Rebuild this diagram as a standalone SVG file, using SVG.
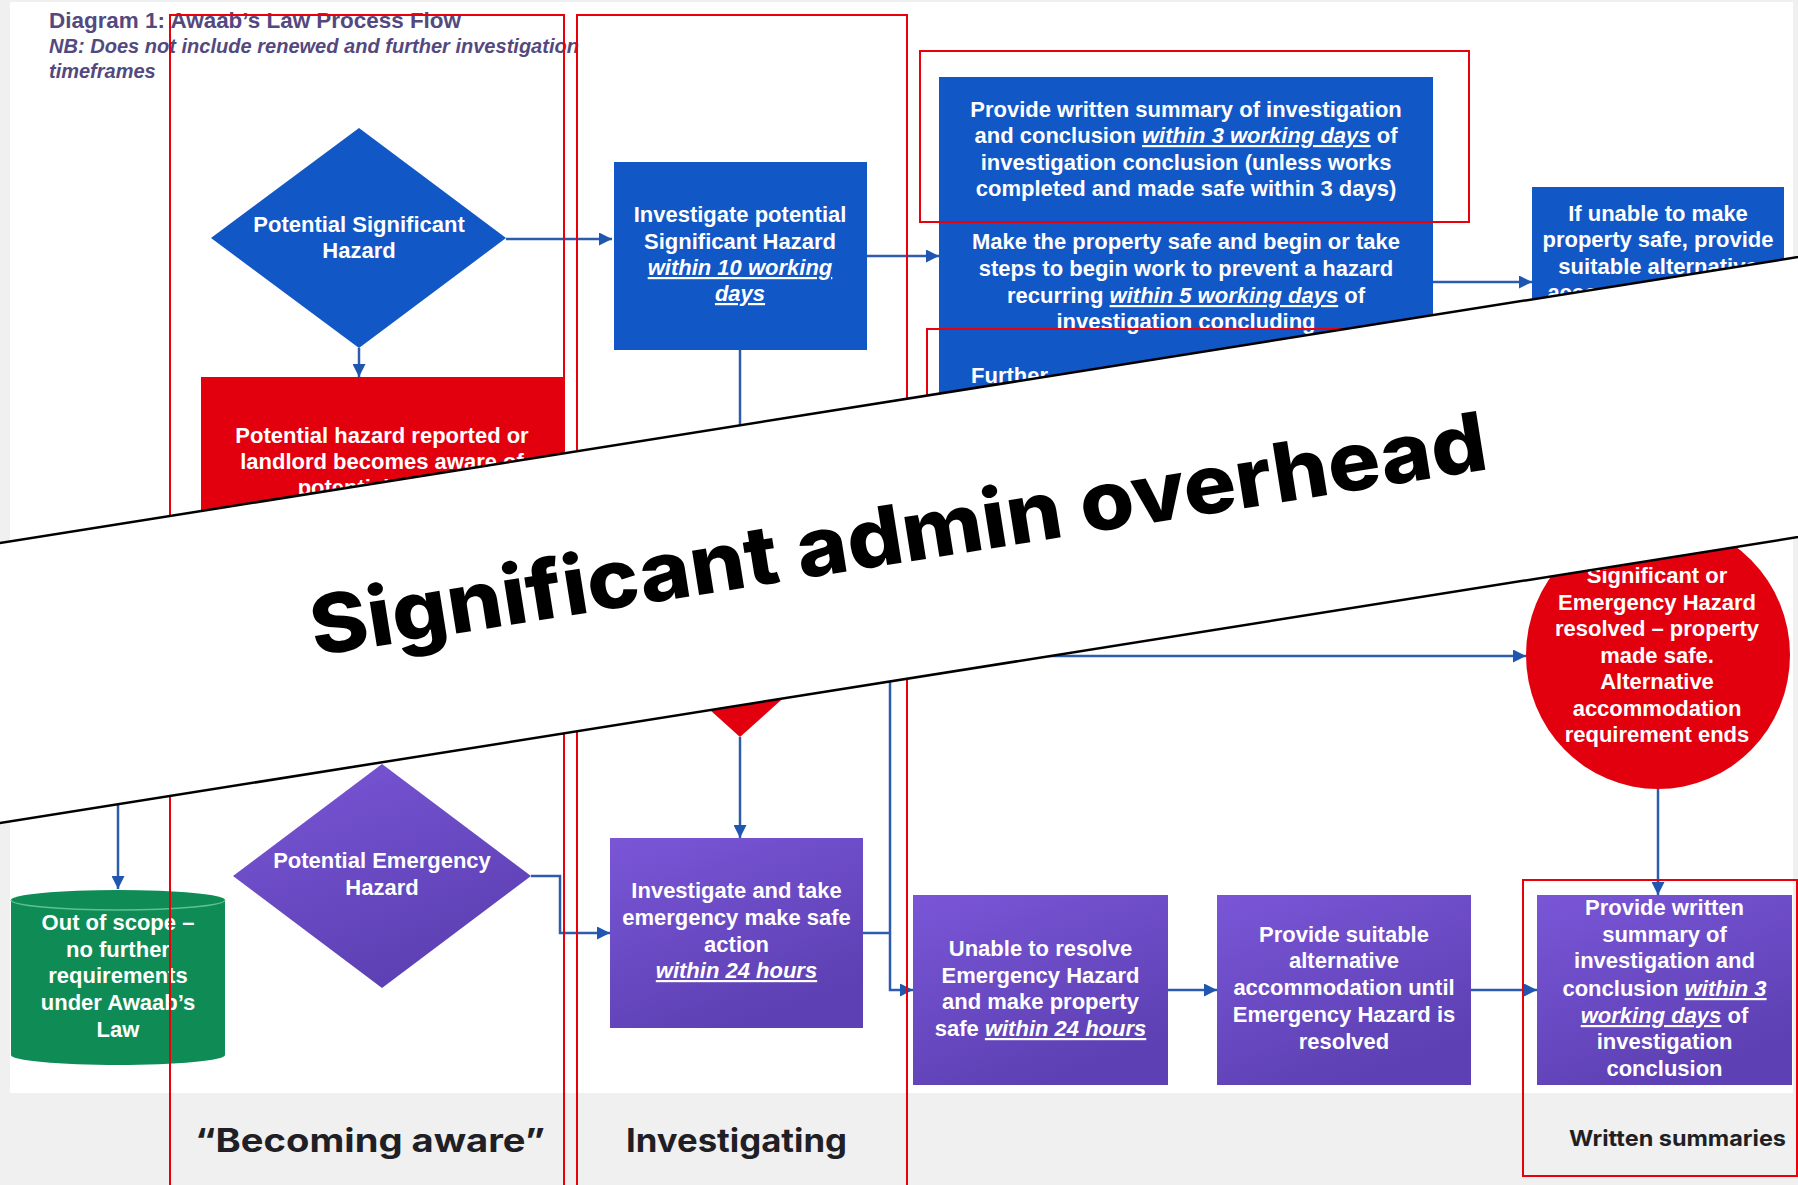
<svg xmlns="http://www.w3.org/2000/svg" width="1798" height="1185" viewBox="0 0 1798 1185">
<defs>
<style>
.t{font-family:"Liberation Sans",Arial,sans-serif;font-weight:bold;font-size:22px;fill:#ffffff;text-anchor:middle}
.u{font-style:italic;text-decoration:underline}
.blue{fill:#1257c6}
.purple{fill:url(#pg)}
.red{fill:#e2000f}
.c{fill:none;stroke:#2c5cab;stroke-width:2.5}
.ca{fill:none;stroke:#2c5cab;stroke-width:2.5;marker-end:url(#ah)}
.ann{fill:none;stroke:#e8000b;stroke-width:2}
.hd{font-family:"Liberation Sans",Arial,sans-serif;font-weight:bold;fill:#54497f}
.lab{font-family:Inter,"Open Sans",sans-serif;font-weight:700;fill:#1f1f25}
</style>
<linearGradient id="pg" x1="0" y1="0" x2="0.5" y2="1">
<stop offset="0" stop-color="#7a56d7"/>
<stop offset="1" stop-color="#5d40b3"/>
</linearGradient>
<marker id="ah" viewBox="0 0 10 10" refX="10" refY="5" markerWidth="13" markerHeight="13" markerUnits="userSpaceOnUse" orient="auto">
<path d="M0,0 L10,5 L0,10 z" fill="#1f56b0"/>
</marker>
</defs>

<rect x="0" y="0" width="1798" height="1185" fill="#f0f0f0"/>
<rect x="10" y="2" width="1783" height="1091" fill="#ffffff"/>

<g id="title">
<text class="hd" x="49" y="28" font-size="22" textLength="412" lengthAdjust="spacingAndGlyphs">Diagram 1: Awaab’s Law Process Flow</text>
<text class="hd" x="49" y="53" font-size="20" font-style="italic" textLength="530" lengthAdjust="spacingAndGlyphs">NB: Does not include renewed and further investigation</text>
<text class="hd" x="49" y="78" font-size="20" font-style="italic">timeframes</text>
</g>

<g id="connectors">
<path class="ca" d="M506,239 H612"/>
<path class="ca" d="M359,348 V377"/>
<path class="ca" d="M867,256 H939"/>
<path class="ca" d="M1433,282 H1532"/>
<path class="c" d="M740,350 V505"/>
<path class="ca" d="M740,737 V838"/>
<path class="ca" d="M531,876 H560 V933 H610"/>
<path class="c" d="M863,933 H890"/>
<path class="ca" d="M890,600 V990 H913"/>
<path class="ca" d="M890,656 H1526"/>
<path class="ca" d="M1658,789 V895"/>
<path class="ca" d="M1168,990 H1217"/>
<path class="ca" d="M1471,990 H1537"/>
<path class="ca" d="M118,780 V889"/>
</g>

<g id="n-sig-diamond">
<polygon class="blue" points="359,128 506,238 359,348 211,238"/>
<text class="t" x="359" y="232">Potential Significant</text>
<text class="t" x="359" y="258">Hazard</text>
</g>

<g id="n-reported">
<rect class="red" x="201" y="377" width="362" height="358"/>
<text class="t" x="382" y="443">Potential hazard reported or</text>
<text class="t" x="382" y="469">landlord becomes aware of</text>
<text class="t" x="382" y="495">potential hazard</text>
</g>

<g id="n-investigate">
<rect class="blue" x="614" y="162" width="253" height="188"/>
<text class="t" x="740" y="222">Investigate potential</text>
<text class="t" x="740" y="249">Significant Hazard</text>
<text class="t" x="740" y="275"><tspan class="u">within 10 working</tspan></text>
<text class="t" x="740" y="301"><tspan class="u">days</tspan></text>
</g>

<g id="n-summary-safe">
<rect class="blue" x="939" y="77" width="494" height="343"/>
<text class="t" x="1186" y="117">Provide written summary of investigation</text>
<text class="t" x="1186" y="143">and conclusion <tspan class="u">within 3 working days</tspan> of</text>
<text class="t" x="1186" y="170">investigation conclusion (unless works</text>
<text class="t" x="1186" y="196">completed and made safe within 3 days)</text>
<text class="t" x="1186" y="249">Make the property safe and begin or take</text>
<text class="t" x="1186" y="276">steps to begin work to prevent a hazard</text>
<text class="t" x="1186" y="303">recurring <tspan class="u">within 5 working days</tspan> of</text>
<text class="t" x="1186" y="329">investigation concluding</text>
<text class="t" x="971" y="383" style="text-anchor:start">Further</text>
</g>

<g id="n-alt-accom">
<rect class="blue" x="1532" y="187" width="252" height="160"/>
<text class="t" x="1658" y="221">If unable to make</text>
<text class="t" x="1658" y="247">property safe, provide</text>
<text class="t" x="1658" y="274">suitable alternative</text>
<text class="t" x="1658" y="300">accommodation until</text>
</g>

<g id="n-red-diamond">
<polygon class="red" points="740,503 870,620 740,737 610,620"/>
</g>

<g id="n-resolved">
<ellipse class="red" cx="1658" cy="655" rx="132" ry="134"/>
<text class="t" x="1657" y="583">Significant or</text>
<text class="t" x="1657" y="609.5">Emergency Hazard</text>
<text class="t" x="1657" y="636">resolved – property</text>
<text class="t" x="1657" y="662.5">made safe.</text>
<text class="t" x="1657" y="689">Alternative</text>
<text class="t" x="1657" y="715.5">accommodation</text>
<text class="t" x="1657" y="742">requirement ends</text>
</g>

<g id="n-emerg-diamond">
<polygon class="purple" points="382,764 531,876 382,988 233,876"/>
<text class="t" x="382" y="868">Potential Emergency</text>
<text class="t" x="382" y="895">Hazard</text>
</g>

<g id="n-emerg-investigate">
<rect class="purple" x="610" y="838" width="253" height="190"/>
<text class="t" x="736.5" y="898">Investigate and take</text>
<text class="t" x="736.5" y="925">emergency make safe</text>
<text class="t" x="736.5" y="952">action</text>
<text class="t" x="736.5" y="978"><tspan class="u">within 24 hours</tspan></text>
</g>

<g id="n-out-of-scope">
<path d="M11,900 A107,10 0 0 1 225,900 V1055 A107,10 0 0 1 11,1055 Z" fill="#0f8b55"/>
<path d="M11,900 A107,10 0 0 0 225,900" fill="none" stroke="#5cc294" stroke-width="1.5"/>
<text class="t" x="118" y="930">Out of scope –</text>
<text class="t" x="118" y="957">no further</text>
<text class="t" x="118" y="983">requirements</text>
<text class="t" x="118" y="1010">under Awaab’s</text>
<text class="t" x="118" y="1037">Law</text>
</g>

<g id="n-unable">
<rect class="purple" x="913" y="895" width="255" height="190"/>
<text class="t" x="1040.5" y="956">Unable to resolve</text>
<text class="t" x="1040.5" y="983">Emergency Hazard</text>
<text class="t" x="1040.5" y="1009">and make property</text>
<text class="t" x="1040.5" y="1036">safe <tspan class="u">within 24 hours</tspan></text>
</g>

<g id="n-provide-alt">
<rect class="purple" x="1217" y="895" width="254" height="190"/>
<text class="t" x="1344" y="942">Provide suitable</text>
<text class="t" x="1344" y="968">alternative</text>
<text class="t" x="1344" y="995">accommodation until</text>
<text class="t" x="1344" y="1022">Emergency Hazard is</text>
<text class="t" x="1344" y="1049">resolved</text>
</g>

<g id="n-written-summary">
<rect class="purple" x="1537" y="895" width="255" height="190"/>
<text class="t" x="1664.5" y="915">Provide written</text>
<text class="t" x="1664.5" y="942">summary of</text>
<text class="t" x="1664.5" y="968">investigation and</text>
<text class="t" x="1664.5" y="996">conclusion <tspan class="u">within 3</tspan></text>
<text class="t" x="1664.5" y="1023"><tspan class="u">working days</tspan> of</text>
<text class="t" x="1664.5" y="1049">investigation</text>
<text class="t" x="1664.5" y="1076">conclusion</text>
</g>

<g id="annotations">
<rect class="ann" x="170" y="15" width="394" height="1180"/>
<rect class="ann" x="577" y="15" width="330" height="1180"/>
<rect class="ann" x="920" y="51" width="549" height="171"/>
<rect class="ann" x="927" y="329" width="560" height="231"/>
<rect class="ann" x="1523" y="880" width="274" height="296"/>
</g>

<g id="band">
<polygon points="-20,546.2 1820,253.6 1820,533.6 -20,826.2" fill="#ffffff" stroke="#000000" stroke-width="2.5"/>
<text transform="translate(315,656) rotate(-9.04)" font-family="Inter,'Open Sans',sans-serif" font-weight="800" font-size="82" fill="#000000" textLength="1190" lengthAdjust="spacingAndGlyphs">Significant admin overhead</text>
</g>

<g id="labels">
<text class="lab" x="195" y="1152" font-size="32" textLength="350" lengthAdjust="spacingAndGlyphs">“Becoming aware”</text>
<text class="lab" x="626" y="1152" font-size="32" textLength="221" lengthAdjust="spacingAndGlyphs">Investigating</text>
<text class="lab" x="1569" y="1146" font-size="22" textLength="217" lengthAdjust="spacingAndGlyphs">Written summaries</text>
</g>
</svg>
